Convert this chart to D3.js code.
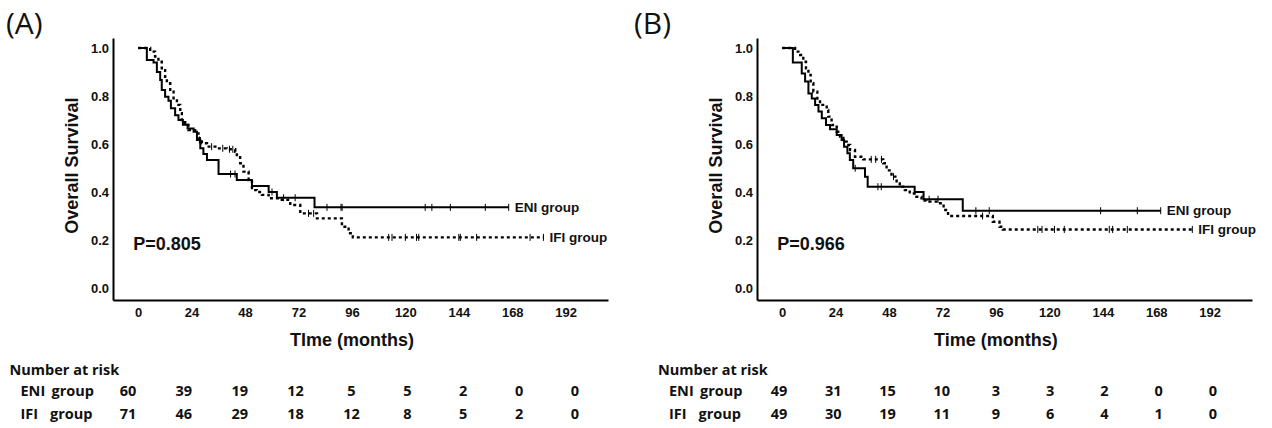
<!DOCTYPE html>
<html lang="en">
  <head>
    <meta charset="utf-8">
    <script src="https://d3js.org/d3.v7.min.js"></script>
    <style>
      body {margin: 0; background: #fff;}
      .axis path {stroke: #000; stroke-width: 2;}
      .axis text {font-family: "Liberation Sans", Arial, sans-serif; font-weight: bold; font-size: 13px; fill: #111;}
      .title {font-family: "Liberation Sans", Arial, sans-serif; font-weight: bold; font-size: 18px; fill: #111;}
      .grp {font-family: "Liberation Sans", Arial, sans-serif; font-weight: bold; font-size: 13.5px; fill: #111;}
      .panel {font-family: "Open Sans", sans-serif; font-size: 30px; font-weight: 500; fill: #111;}
      .risk {font-family: "Open Sans", sans-serif; font-weight: 700; font-size: 14.5px; fill: #111;}
      .curve {fill: none; stroke: #000; stroke-width: 2;}
      .dotted {stroke-dasharray: 3,3; stroke-width: 2.4;}
      .censor {stroke: #000; stroke-width: 1;}
    </style>
  </head>
  <body>
    <script type="text/javascript">
      // tick values
      const xTicks = [0, 24, 48, 72, 96, 120, 144, 168, 192];
      const yTicks = [0, 0.2, 0.4, 0.6, 0.8, 1.0];
      const riskTimes = [0, 24, 48, 72, 96, 120, 144, 168, 192];
      const groups = ["ENI", "IFI"];

      // panel A, ENI group (solid)
      const eniA_time = [0, 3.9, 6.9, 8.4, 9.9, 10.6, 12.1, 13.6, 14.7, 16.6, 18.1, 20.1, 22.2, 24.9, 26.4, 27.9, 29.3, 30.9, 36.1, 44.3, 51.1, 58.6, 62.3, 79.2];
      const eniA_surv = [1, 0.95, 0.94, 0.90, 0.867, 0.825, 0.797, 0.78, 0.749, 0.72, 0.70, 0.68, 0.665, 0.651, 0.617, 0.582, 0.558, 0.533, 0.475, 0.45, 0.425, 0.40, 0.376, 0.336];
      const eniA_censor = [27.5, 41.5, 43.5, 60.1, 65.3, 70.5, 84.8, 91.1, 91.6, 128.9, 131.9, 140.2, 155.9, 166.4];
      // panel A, IFI group (dotted)
      const ifiA_time = [0, 5.4, 7.6, 9.1, 10.6, 12.1, 12.9, 14.4, 15.9, 17.4, 18.9, 19.6, 21.1, 22.6, 25.6, 27.1, 28.6, 30.9, 35.4, 39.8, 43.6, 44.3, 45.8, 47.3, 49.6, 51.1, 53.3, 55.6, 58.6, 64.5, 68.3, 72.8, 80.3, 91.5, 94.5, 96.4];
      const ifiA_surv = [1, 0.985, 0.964, 0.943, 0.908, 0.88, 0.853, 0.818, 0.79, 0.763, 0.728, 0.70, 0.679, 0.658, 0.644, 0.624, 0.603, 0.589, 0.582, 0.578, 0.568, 0.554, 0.52, 0.485, 0.45, 0.408, 0.40, 0.388, 0.374, 0.367, 0.346, 0.311, 0.29, 0.255, 0.228, 0.211];
      const ifiA_censor = [33, 38, 41, 42.5, 76.5, 78.8, 112.5, 114, 120, 125, 126, 144, 144.7, 152, 176, 182];
      const riskA_eni = [60, 39, 19, 12, 5, 5, 2, 0, 0];
      const riskA_ifi = [71, 46, 29, 18, 12, 8, 5, 2, 0];

      // panel B, ENI group (solid)
      const eniB_time = [0, 4.8, 8.8, 10.3, 11.8, 13.3, 14.8, 16.3, 17.8, 19.7, 21.5, 24.5, 26.7, 27.8, 29.3, 30.4, 31.9, 37.2, 38.4, 59.5, 63.5, 81.1];
      const eniB_surv = [1, 0.94, 0.894, 0.86, 0.81, 0.79, 0.7625, 0.735, 0.707, 0.679, 0.661, 0.6375, 0.617, 0.589, 0.561, 0.533, 0.499, 0.464, 0.422, 0.40, 0.37, 0.322];
      const eniB_censor = [32.8, 43, 44.5, 66, 70, 87, 93, 143, 159.5, 170];
      // panel B, IFI group (dotted)
      const ifiB_time = [0, 5.8, 8.1, 9.5, 10.7, 11.8, 12.8, 14.0, 15.8, 17.0, 20.0, 20.7, 22.2, 24.5, 26.0, 27.5, 29.0, 30.5, 32.7, 36.4, 45.4, 46.9, 49.1, 51.4, 52.8, 55.1, 57.3, 60.3, 62.6, 64.8, 69.3, 72.5, 74.5, 94.6, 97.6, 99.1];
      const ifiB_surv = [1, 0.985, 0.971, 0.943, 0.915, 0.888, 0.853, 0.818, 0.783, 0.763, 0.742, 0.714, 0.679, 0.651, 0.631, 0.61, 0.596, 0.575, 0.547, 0.536, 0.52, 0.49, 0.464, 0.436, 0.422, 0.408, 0.394, 0.38, 0.364, 0.36, 0.353, 0.325, 0.30, 0.276, 0.255, 0.244];
      const ifiB_censor = [40, 42, 44.6, 50, 90, 114.8, 116.7, 122.3, 126.7, 146.9, 148.4, 155, 184.2];
      const riskB_eni = [49, 31, 15, 10, 3, 3, 2, 0, 0];
      const riskB_ifi = [49, 30, 19, 11, 9, 6, 4, 1, 0];

      const w = 1272;
      const h = 428;

      const svg = d3.select("body")
          .append("svg")
          .attr("width", w)
          .attr("height", h);

      // finds survival value at time t
      function survAt(times, surv, t) {
        const i = d3.bisectRight(times, t) - 1;
        return surv[Math.max(0, i)];
      }

      function drawPanel(p) {
        const g = svg.append("g");
        const x = d3.scaleLinear().domain([-11.3, 211]).range([p.left, p.left + 495]);
        const y = d3.scaleLinear().domain([-0.05, 1.0417]).range([300, 38]);

        // panel letter
        g.append("text").attr("class", "panel")
            .attr("x", p.letterX).attr("y", 34)
            .text(p.letter);

        // axes
        g.append("g").attr("class", "axis")
            .attr("transform", "translate(0,300)")
            .call(d3.axisBottom(x).tickValues(xTicks).tickSize(0).tickPadding(8));
        g.append("g").attr("class", "axis")
            .attr("transform", "translate(" + p.left + ",0)")
            .call(d3.axisLeft(y).tickValues(yTicks).tickSize(0).tickPadding(4)
              .tickFormat(d3.format(".1f")));

        // axis titles
        g.append("text").attr("class", "title")
            .attr("text-anchor", "middle")
            .attr("x", x(96)).attr("y", 346)
            .text(p.xTitle);
        g.append("text").attr("class", "title")
            .attr("text-anchor", "middle")
            .attr("transform", "translate(" + (p.left - 35) + "," + y(0.51) + ") rotate(-90)")
            .text("Overall Survival");

        // p value
        g.append("text").attr("class", "title")
            .attr("x", x(-2.2)).attr("y", y(0.16))
            .text(p.pval);

        // curves
        p.curves.forEach(function(c) {
          const pts = c.time.map(function(t, i) { return [t, c.surv[i]]; });
          const end = d3.max(c.censor);
          pts.push([end, c.surv[c.surv.length - 1]]);
          const line = d3.line()
              .x(function(d) { return x(d[0]); })
              .y(function(d) { return y(d[1]); })
              .curve(d3.curveStepAfter);
          g.append("path")
              .attr("class", c.dotted ? "curve dotted" : "curve")
              .attr("d", line(pts));

          // censor marks
          g.selectAll(null)
              .data(c.censor)
              .enter()
              .append("line")
              .attr("class", "censor")
              .attr("x1", function(d) { return x(d); })
              .attr("x2", function(d) { return x(d); })
              .attr("y1", function(d) { return y(survAt(c.time, c.surv, d)) - 3.5; })
              .attr("y2", function(d) { return y(survAt(c.time, c.surv, d)) + 3.5; });

          // group label at end of curve
          g.append("text").attr("class", "grp")
              .attr("x", x(end) + 6)
              .attr("y", y(c.surv[c.surv.length - 1]))
              .attr("dy", "0.35em")
              .text(c.name + " group");
        });

        // number at risk table
        const col = d3.scalePoint().domain(riskTimes).range(p.riskRange);
        g.append("text").attr("class", "risk")
            .attr("x", p.tableX).attr("y", 370).attr("dy", "0.35em")
            .text("Number at risk");
        const rows = [[groups[0], p.riskEni, 391, 31], [groups[1], p.riskIfi, 414, 29.5]];
        rows.forEach(function(r) {
          g.append("text").attr("class", "risk")
              .attr("x", p.tableX + 11).attr("y", r[2]).attr("dy", "0.35em")
              .text(r[0]);
          g.append("text").attr("class", "risk")
              .attr("x", p.tableX + 11 + r[3]).attr("y", r[2]).attr("dy", "0.35em")
              .text("group");
          g.selectAll(null)
              .data(r[1])
              .enter()
              .append("text")
              .attr("class", "risk")
              .attr("text-anchor", "middle")
              .attr("x", function(d, i) { return col(riskTimes[i]); })
              .attr("y", r[2]).attr("dy", "0.35em")
              .text(function(d) { return d; });
        });
      }

      drawPanel({
        letter: "(A)", letterX: 6, left: 113, xTitle: "TIme (months)", pval: "P=0.805",
        tableX: 9.5, riskRange: [128, 575], riskEni: riskA_eni, riskIfi: riskA_ifi,
        curves: [
          {name: "ENI", time: eniA_time, surv: eniA_surv, censor: eniA_censor, dotted: false},
          {name: "IFI", time: ifiA_time, surv: ifiA_surv, censor: ifiA_censor, dotted: true}
        ]
      });
      drawPanel({
        letter: "(B)", letterX: 634, left: 757, xTitle: "Time (months)", pval: "P=0.966",
        tableX: 658, riskRange: [779, 1213], riskEni: riskB_eni, riskIfi: riskB_ifi,
        curves: [
          {name: "ENI", time: eniB_time, surv: eniB_surv, censor: eniB_censor, dotted: false},
          {name: "IFI", time: ifiB_time, surv: ifiB_surv, censor: ifiB_censor, dotted: true}
        ]
      });
    </script>
  </body>
</html>
